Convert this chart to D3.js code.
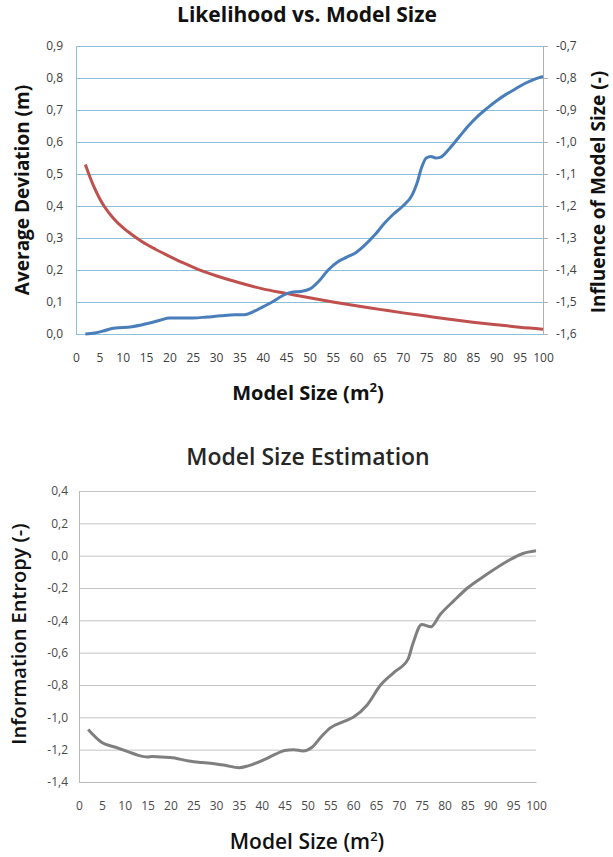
<!DOCTYPE html>
<meta charset="utf-8" />
<script src="https://d3js.org/d3.v7.min.js"></script>
<style>
  body { margin: 0; background: #fff; }
  svg text { font-family: "Open Sans", "Noto Sans", sans-serif; }
</style>
<div id="chart"></div>
<script>
  // top chart: average deviation (left axis) and influence of model size (right axis)
  var devX = [2, 4, 6, 8, 10, 12, 14, 16, 18, 20, 22, 25, 28, 31, 34, 36, 38, 40, 42, 44, 46, 48, 50, 52, 54, 56, 58, 60, 62, 64, 66, 68, 70, 72, 73, 74, 75, 76, 77, 78, 80, 82, 84, 86, 88, 90, 92, 94, 96, 98, 100];
  var devY = [0.0, 0.003, 0.01, 0.018, 0.02, 0.023, 0.028, 0.035, 0.043, 0.05, 0.05, 0.05, 0.053, 0.057, 0.06, 0.06, 0.07, 0.085, 0.1, 0.118, 0.13, 0.133, 0.14, 0.165, 0.2, 0.225, 0.24, 0.255, 0.28, 0.31, 0.345, 0.375, 0.4, 0.435, 0.47, 0.52, 0.55, 0.555, 0.55, 0.552, 0.58, 0.615, 0.65, 0.68, 0.705, 0.728, 0.748, 0.765, 0.782, 0.795, 0.805];

  var inflX = [2, 3, 4, 5, 6, 8, 10, 12, 14, 17, 20, 23, 26, 30, 35, 40, 45, 50, 55, 60, 65, 70, 75, 80, 85, 90, 95, 100];
  var inflY = [-1.07, -1.11, -1.145, -1.175, -1.2, -1.238, -1.267, -1.29, -1.31, -1.335, -1.357, -1.378, -1.397, -1.418, -1.44, -1.459, -1.473, -1.487, -1.5, -1.512, -1.523, -1.534, -1.544, -1.554, -1.563, -1.571, -1.579, -1.585];

  // bottom chart: information entropy
  var entX = [2, 5, 8, 11, 13, 15, 16, 18, 20, 24, 27, 30, 32, 35, 37, 39, 41, 43, 45, 47, 49, 51, 53, 55, 58, 60, 63, 66, 69, 72, 73, 75, 77, 79, 82, 85, 89, 94, 97, 100];
  var entY = [-1.075, -1.155, -1.185, -1.215, -1.235, -1.245, -1.242, -1.246, -1.248, -1.27, -1.28, -1.288, -1.297, -1.312, -1.3, -1.28, -1.255, -1.228, -1.205, -1.2, -1.208, -1.185, -1.12, -1.065, -1.025, -1.0, -0.925, -0.8, -0.72, -0.64, -0.55, -0.425, -0.44, -0.365, -0.28, -0.2, -0.12, -0.03, 0.012, 0.03];

  var xTicks = d3.range(0, 101, 5);
  var leftTicks = d3.range(0, 10).map(function(i) { return i / 10; });
  var rightTicks = d3.range(0, 10).map(function(i) { return -1.6 + i / 10; });
  var entTicks = d3.range(0, 10).map(function(i) { return -1.4 + i * 0.2; });

  var comma = function(d) {
    return d3.format(".1f")(d).replace(".", ",").replace("−", "-");
  };

  var svg = d3.select("#chart").append("svg")
    .attr("width", 613)
    .attr("height", 857);

  // ---------- top chart ----------
  var x1 = d3.scaleLinear().domain([0, 100]).range([76, 543]);
  var yL = d3.scaleLinear().domain([0, 0.9]).range([334, 46]);
  var yR = d3.scaleLinear().domain([-1.6, -0.7]).range([334, 46]);

  var topG = svg.append("g");

  topG.append("g")
    .attr("transform", "translate(76,0)")
    .call(d3.axisLeft(yL).tickValues(leftTicks).tickSize(-467).tickFormat(""))
    .call(function(g) {
      g.select(".domain").remove();
      g.selectAll("line").attr("stroke", "#8cc0d8");
    });

  topG.append("g")
    .attr("transform", "translate(76,0)")
    .call(d3.axisLeft(yL).tickValues(leftTicks).tickSize(0).tickPadding(13).tickFormat(comma))
    .call(function(g) {
      g.select(".domain").attr("stroke", "#8cc0d8");
      g.selectAll("text").attr("fill", "#404040").style("font-size", "12px");
    });

  topG.append("g")
    .attr("transform", "translate(543,0)")
    .call(d3.axisRight(yR).tickValues(rightTicks).tickSize(5).tickPadding(8).tickFormat(comma))
    .call(function(g) {
      g.select(".domain").attr("stroke", "#b0b0b0");
      g.selectAll("line").attr("stroke", "#b0b0b0");
      g.selectAll("text").attr("fill", "#404040").style("font-size", "12px");
    });

  topG.append("g")
    .attr("transform", "translate(0,334)")
    .call(d3.axisBottom(x1).tickValues(xTicks).tickSize(0).tickPadding(19))
    .call(function(g) {
      g.select(".domain").attr("stroke", "#8cc0d8");
      g.selectAll("text").attr("fill", "#404040").style("font-size", "12px");
    });

  var devLine = d3.line()
    .x(function(d, i) { return x1(devX[i]); })
    .y(function(d) { return yL(d); })
    .curve(d3.curveMonotoneX);

  var inflLine = d3.line()
    .x(function(d, i) { return x1(inflX[i]); })
    .y(function(d) { return yR(d); })
    .curve(d3.curveMonotoneX);

  topG.append("path")
    .attr("d", inflLine(inflY))
    .attr("fill", "none")
    .attr("stroke", "#c0504d")
    .attr("stroke-width", 3);

  topG.append("path")
    .attr("d", devLine(devY))
    .attr("fill", "none")
    .attr("stroke", "#4a7ebb")
    .attr("stroke-width", 3);

  topG.append("text")
    .attr("x", 307).attr("y", 22)
    .attr("text-anchor", "middle")
    .style("font-size", "21px").style("font-weight", "bold")
    .attr("fill", "#111")
    .text("Likelihood vs. Model Size");

  topG.append("text")
    .attr("transform", "translate(29,190) rotate(-90)")
    .attr("text-anchor", "middle")
    .style("font-size", "19px").style("font-weight", "bold")
    .attr("fill", "#111")
    .text("Average Deviation (m)");

  topG.append("text")
    .attr("transform", "translate(605,192) rotate(-90)")
    .attr("text-anchor", "middle")
    .style("font-size", "19px").style("font-weight", "bold")
    .attr("fill", "#111")
    .text("Influence of Model Size (-)");

  function sizeTitle(g, cx, y, weight, fs) {
    var t = g.append("text")
      .attr("x", cx).attr("y", y)
      .attr("text-anchor", "middle")
      .style("font-size", fs + "px").style("font-weight", weight)
      .attr("fill", "#111");
    t.append("tspan").text("Model Size (m");
    t.append("tspan").attr("dy", -8).style("font-size", "13px").text("2");
    t.append("tspan").attr("dy", 8).text(")");
  }
  sizeTitle(topG, 308, 400, "bold", 20);

  // ---------- bottom chart ----------
  var x2 = d3.scaleLinear().domain([0, 100]).range([79, 536]);
  var y2 = d3.scaleLinear().domain([-1.4, 0.4]).range([782, 491]);

  var botG = svg.append("g");

  botG.append("g")
    .attr("transform", "translate(79,0)")
    .call(d3.axisLeft(y2).tickValues(entTicks).tickSize(-457).tickFormat(""))
    .call(function(g) {
      g.select(".domain").remove();
      g.selectAll("line").attr("stroke", "#c4c4c4");
    });

  botG.append("g")
    .attr("transform", "translate(79,0)")
    .call(d3.axisLeft(y2).tickValues(entTicks).tickSize(0).tickPadding(11).tickFormat(comma))
    .call(function(g) {
      g.select(".domain").attr("stroke", "#b8b8b8");
      g.selectAll("text").attr("fill", "#4a4a4a").style("font-size", "12px");
    });

  botG.append("g")
    .attr("transform", "translate(0,782)")
    .call(d3.axisBottom(x2).tickValues(xTicks).tickSize(0).tickPadding(19))
    .call(function(g) {
      g.select(".domain").attr("stroke", "#b8b8b8");
      g.selectAll("text").attr("fill", "#4a4a4a").style("font-size", "12px");
    });

  var entLine = d3.line()
    .x(function(d, i) { return x2(entX[i]); })
    .y(function(d) { return y2(d); })
    .curve(d3.curveMonotoneX);

  botG.append("path")
    .attr("d", entLine(entY))
    .attr("fill", "none")
    .attr("stroke", "#7f7f7f")
    .attr("stroke-width", 3);

  botG.append("text")
    .attr("x", 308).attr("y", 465)
    .attr("text-anchor", "middle")
    .style("font-size", "23px").style("font-weight", 600)
    .attr("fill", "#262626")
    .text("Model Size Estimation");

  botG.append("text")
    .attr("transform", "translate(26,634) rotate(-90)")
    .attr("text-anchor", "middle")
    .style("font-size", "20px").style("font-weight", 600)
    .attr("fill", "#111")
    .text("Information Entropy (-)");

  sizeTitle(botG, 307, 849, 600, 21);
</script>
